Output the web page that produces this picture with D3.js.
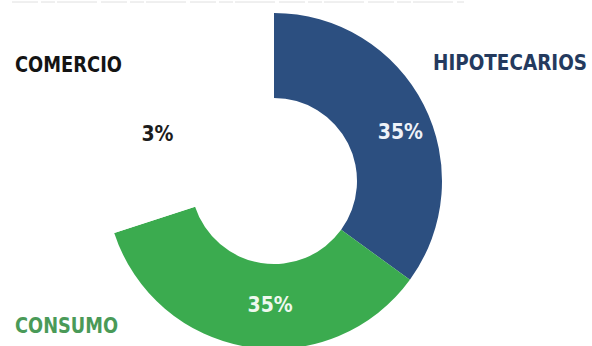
<!DOCTYPE html>
<html>
<head>
<meta charset="utf-8">
<script src="https://cdn.jsdelivr.net/npm/d3@7"></script>
<style>
  html, body { margin: 0; padding: 0; background: #ffffff; }
  svg { display: block; }
  text { font-family: "DejaVu Sans Condensed", "DejaVu Sans", sans-serif; font-weight: bold; font-stretch: condensed; }
</style>
</head>
<body>
<svg id="chart" width="592" height="346"></svg>
<script>
// Portfolio share by credit type (percent of total)
const categories = ["HIPOTECARIOS", "CONSUMO", "COMERCIO"];
const shares = [35, 35, 3];
const shareLabels = ["35%", "35%", "3%"];

// Styling and layout, kept apart from the values
const sliceColors = ["#2c4f80", "#3bab4f", "#ffffff"];
const pctColors = ["#eef2f8", "#eef8ee", "#1c1c1c"];
const nameColors = ["#243a5e", "#4a9a58", "#141414"];
// where each percentage label sits: angle in percent of the full turn, and radius
const pctLabelAt = [[19, 136], [50.5, 124], [81.2, 126]];

const W = 592, H = 346;
const cx = 274, cy = 181, outerR = 168, innerR = 83;

const svg = d3.select("#chart");

// faint rule along the top edge
svg.append("line")
  .attr("x1", 12).attr("x2", 464).attr("y1", 2).attr("y2", 2)
  .attr("stroke", "#e0e0e0").attr("stroke-width", 1)
  .attr("stroke-dasharray", "26 3 14 2 40 4");

// angles follow an absolute percent scale (100% = full circle)
const angle = d3.scaleLinear().domain([0, 100]).range([0, 2 * Math.PI]);
let acc = 0;
const slices = shares.map((v, i) => {
  const s = { i, start: acc, end: acc + v };
  acc += v;
  return s;
});

const arc = d3.arc().innerRadius(innerR).outerRadius(outerR);
const g = svg.append("g").attr("transform", `translate(${cx},${cy})`);

g.selectAll("path.slice")
  .data(slices)
  .join("path")
  .attr("class", "slice")
  .attr("d", d => arc({ startAngle: angle(d.start), endAngle: angle(d.end) }))
  .attr("fill", d => sliceColors[d.i]);

// percentage labels
g.selectAll("text.pct")
  .data(slices)
  .join("text")
  .attr("class", "pct")
  .attr("x", d => Math.sin(angle(pctLabelAt[d.i][0])) * pctLabelAt[d.i][1])
  .attr("y", d => -Math.cos(angle(pctLabelAt[d.i][0])) * pctLabelAt[d.i][1])
  .attr("dy", "0.36em")
  .attr("text-anchor", "middle")
  .attr("font-size", 21)
  .attr("fill", d => pctColors[d.i])
  .text(d => shareLabels[d.i]);

// category names
const names = [
  { i: 0, x: 587, y: 70, anchor: "end", len: 154 },
  { i: 1, x: 15, y: 333, anchor: "start", len: 103 },
  { i: 2, x: 15, y: 72, anchor: "start", len: 107 }
];
svg.selectAll("text.name")
  .data(names)
  .join("text")
  .attr("class", "name")
  .attr("x", d => d.x)
  .attr("y", d => d.y)
  .attr("text-anchor", d => d.anchor)
  .attr("font-size", 21)
  .attr("textLength", d => d.len)
  .attr("lengthAdjust", "spacingAndGlyphs")
  .attr("fill", d => nameColors[d.i])
  .text(d => categories[d.i]);
</script>
</body>
</html>
